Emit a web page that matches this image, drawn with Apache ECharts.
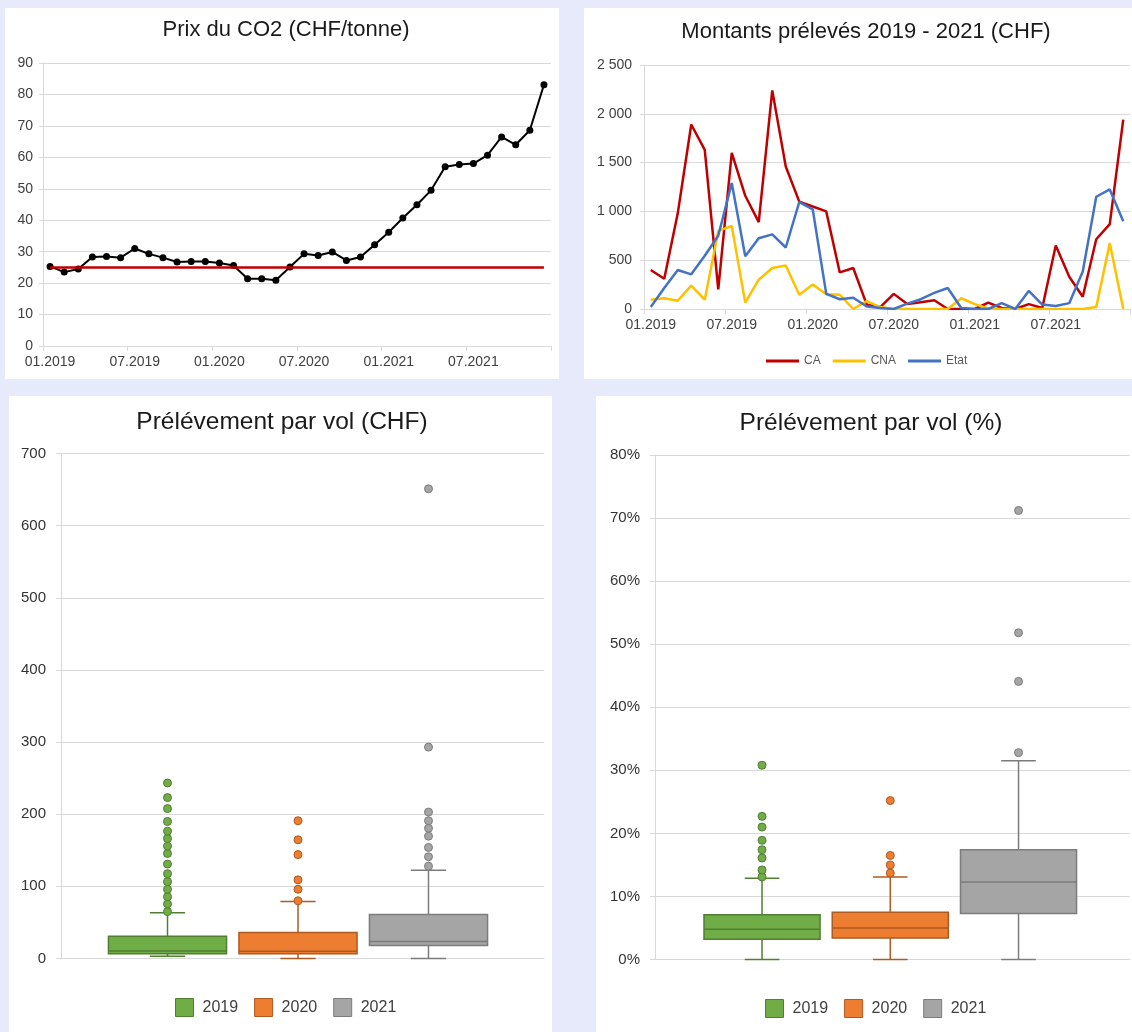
<!DOCTYPE html>
<html>
<head>
<meta charset="utf-8">
<script src="https://cdn.jsdelivr.net/npm/echarts@6/dist/echarts.min.js"></script>
<style>
html, body { margin: 0; padding: 0; background: #e6eafb; }
#c { width: 1132px; height: 1032px; }
</style>
</head>
<body>
<div id="c"></div>
<script>
// ---------- categories ----------
const years = ['2019', '2020', '2021'];
const monthNums = ['01','02','03','04','05','06','07','08','09','10','11','12'];
const months = [];
years.forEach(y => monthNums.forEach(m => months.push(m + '.' + y)));

// ---------- Prix du CO2 (CHF/tonne) ----------
const co2Price = [25.3, 23.5, 24.5, 28.3, 28.5, 28.1, 31.0, 29.3, 28.1, 26.7, 26.9, 26.9,
                  26.4, 25.6, 21.4, 21.4, 20.9, 25.1, 29.3, 28.8, 29.9, 27.2, 28.3, 32.2,
                  36.2, 40.7, 44.9, 49.5, 57.0, 57.7, 58.0, 60.7, 66.5, 64.0, 68.6, 83.1];
const co2Reference = 25;

// ---------- Montants prélevés 2019 - 2021 (CHF) ----------
const amountCA   = [400, 310, 980, 1890, 1630, 200, 1600, 1160, 890, 2240, 1460, 1100,
                    1050, 1000, 375, 420, 45, 20, 155, 50, 70, 90, 0, 0,
                    0, 65, 10, 0, 50, 10, 650, 330, 125, 715, 870, 1940];
const amountCNA  = [95, 110, 85, 240, 95, 800, 850, 65, 300, 420, 445, 145,
                    250, 150, 145, 0, 80, 20, 0, 0, 0, 0, 0, 110,
                    50, 5, 0, 0, 0, 0, 0, 0, 0, 20, 675, 0];
const amountEtat = [20, 215, 400, 355, 545, 750, 1290, 540, 725, 765, 630, 1095,
                    1020, 155, 100, 115, 25, 10, 0, 55, 100, 165, 215, 10,
                    0, 0, 60, 0, 185, 45, 30, 60, 385, 1150, 1225, 900];
const amountNames = ['CA', 'CNA', 'Etat'];

// ---------- Prélévement par vol (CHF): [min, Q1, median, Q3, max] ----------
const chfBox2019 = [3, 6.5, 10.5, 31, 63.5];
const chfBox2020 = [0, 6.5, 10, 36, 79];
const chfBox2021 = [0, 18, 23.5, 61, 122.5];
const chfOut2019 = [65, 75.6, 85.7, 95.9, 106.5, 117.5, 130.9, 145.6, 155.8, 166.4, 176.5, 189.9, 207.8, 223, 243.3];
const chfOut2020 = [80, 96, 109, 144, 164.5, 191];
const chfOut2021 = [128, 141, 154, 169.6, 180.6, 191, 203, 293, 651];

// ---------- Prélévement par vol (%) ----------
const pctBox2019 = [0, 3.2, 4.8, 7.1, 12.9];
const pctBox2020 = [0, 3.4, 5.0, 7.5, 13.1];
const pctBox2021 = [0, 7.3, 12.3, 17.4, 31.5];
const pctOut2019 = [13.1, 14.2, 16.1, 17.4, 18.9, 21.0, 22.7, 30.8];
const pctOut2020 = [13.7, 15.0, 16.5, 25.2];
const pctOut2021 = [32.8, 44.1, 51.8, 71.2];

// ---------- styling ----------
const FONT = 'Liberation Sans, Arial, sans-serif';
const GRID_C = '#d9d9d9';
const LABEL_C = '#404040';
const lineColors = { 'CA': '#c00000', 'CNA': '#ffc000', 'Etat': '#4472c4' };
const yearFill = { '2019': '#70ad47', '2020': '#ed7d31', '2021': '#a5a5a5' };
const yearStroke = { '2019': '#507e32', '2020': '#ae5a21', '2021': '#7c7c7c' };

function thousands(v) {
  return v >= 1000 ? Math.floor(v / 1000) + ' ' + String(v % 1000).padStart(3, '0') : String(v);
}

function boxRenderer(fill, stroke) {
  return function (params, api) {
    const c = api.value(0);
    const pLo = api.coord([c, api.value(1)]);
    const pQ1 = api.coord([c, api.value(2)]);
    const pMed = api.coord([c, api.value(3)]);
    const pQ3 = api.coord([c, api.value(4)]);
    const pHi = api.coord([c, api.value(5)]);
    const band = api.size([1, 0])[0];
    const bw = band * 0.905;
    const cw = band * 0.27;
    const x = pMed[0];
    const ls = { stroke: stroke, lineWidth: 1.5, fill: null };
    return {
      type: 'group',
      children: [
        { type: 'line', shape: { x1: x, y1: pHi[1], x2: x, y2: pQ3[1] }, style: ls },
        { type: 'line', shape: { x1: x, y1: pQ1[1], x2: x, y2: pLo[1] }, style: ls },
        { type: 'line', shape: { x1: x - cw / 2, y1: pHi[1], x2: x + cw / 2, y2: pHi[1] }, style: ls },
        { type: 'line', shape: { x1: x - cw / 2, y1: pLo[1], x2: x + cw / 2, y2: pLo[1] }, style: ls },
        { type: 'rect', shape: { x: x - bw / 2, y: pQ3[1], width: bw, height: pQ1[1] - pQ3[1] },
          style: { fill: fill, stroke: stroke, lineWidth: 1.5 } },
        { type: 'line', shape: { x1: x - bw / 2, y1: pMed[1], x2: x + bw / 2, y2: pMed[1] }, style: ls }
      ]
    };
  };
}

function boxSeries(year, box, axisIdx) {
  return {
    type: 'custom', name: year, xAxisIndex: axisIdx, yAxisIndex: axisIdx,
    itemStyle: { color: yearFill[year] },
    renderItem: boxRenderer(yearFill[year], yearStroke[year]),
    encode: { x: 0, y: [1, 2, 3, 4, 5] },
    data: [[year].concat(box)], z: 2
  };
}
function outSeries(year, vals, axisIdx) {
  return {
    type: 'scatter', name: year, xAxisIndex: axisIdx, yAxisIndex: axisIdx,
    symbol: 'circle', symbolSize: 8,
    itemStyle: { color: yearFill[year], borderColor: yearStroke[year], borderWidth: 1, opacity: 1 },
    data: vals.map(v => [year, v]), z: 3
  };
}
function legendItems() {
  return years.map(y => ({ name: y, icon: 'rect',
    itemStyle: { color: yearFill[y], borderColor: yearStroke[y], borderWidth: 1 } }));
}
function amountSeries(name, data) {
  return { type: 'line', name: name, xAxisIndex: 1, yAxisIndex: 1, data: data, symbol: 'none',
    itemStyle: { color: lineColors[name] }, lineStyle: { color: lineColors[name], width: 2.5 } };
}

const axisLineGray = { show: true, lineStyle: { color: GRID_C, width: 1 } };
const splitGray = { show: true, lineStyle: { color: GRID_C, width: 1 } };

function titleText(text, x, y, size) {
  return { type: 'text', x: x, y: y, z: 5, silent: true,
    style: { text: text, font: size + 'px ' + FONT, fill: '#1a1a1a',
      textAlign: 'center', textVerticalAlign: 'middle', align: 'center', verticalAlign: 'middle' } };
}
function panel(x, y, w, h) {
  return { type: 'rect', z: -10, silent: true, shape: { x: x, y: y, width: w, height: h },
    style: { fill: '#ffffff' } };
}

const option = {
  animation: false,
  backgroundColor: '#e6eafb',
  textStyle: { fontFamily: FONT },
  graphic: { elements: [
    panel(5, 8, 554, 371),
    panel(584, 8, 548, 371),
    panel(9, 396, 543, 636),
    panel(596, 396, 536, 636),
    titleText('Prix du CO2 (CHF/tonne)', 286, 30, 22),
    titleText('Montants prélevés 2019 - 2021 (CHF)', 866, 32, 22),
    titleText('Prélévement par vol (CHF)', 282, 422, 24.5),
    titleText('Prélévement par vol (%)', 871, 423, 24.5)
  ] },
  grid: [
    { left: 43, top: 63, width: 508, height: 283 },
    { left: 644, top: 65, width: 486, height: 244 },
    { left: 61, top: 453.5, width: 483, height: 505 },
    { left: 102.25, top: 453.5, width: 391.5, height: 505 },
    { left: 655, top: 455, width: 475, height: 504.5 },
    { left: 697.9, top: 455, width: 384.75, height: 504.5 }
  ],
  xAxis: [
    { gridIndex: 0, type: 'category', data: months, boundaryGap: true,
      axisLine: axisLineGray,
      axisTick: { show: true, interval: 5, length: 5, lineStyle: { color: GRID_C } },
      axisLabel: { interval: 5, fontSize: 14, color: LABEL_C, margin: 9, fontFamily: FONT } },
    { gridIndex: 1, type: 'category', data: months, boundaryGap: true,
      axisLine: axisLineGray,
      axisTick: { show: true, interval: 5, length: 5, lineStyle: { color: GRID_C } },
      axisLabel: { interval: 5, fontSize: 14, color: LABEL_C, margin: 9, fontFamily: FONT } },
    { gridIndex: 2, type: 'category', data: [''], axisLine: axisLineGray,
      axisTick: { show: false }, axisLabel: { show: false } },
    { gridIndex: 3, type: 'category', data: years, show: false },
    { gridIndex: 4, type: 'category', data: [''], axisLine: axisLineGray,
      axisTick: { show: false }, axisLabel: { show: false } },
    { gridIndex: 5, type: 'category', data: years, show: false }
  ],
  yAxis: [
    { gridIndex: 0, type: 'value', min: 0, max: 90, interval: 10,
      axisLine: axisLineGray, axisTick: { show: true, length: 4, lineStyle: { color: GRID_C } },
      splitLine: splitGray,
      axisLabel: { fontSize: 14, color: LABEL_C, margin: 10, fontFamily: FONT } },
    { gridIndex: 1, type: 'value', min: 0, max: 2500, interval: 500,
      axisLine: axisLineGray, axisTick: { show: true, length: 4, lineStyle: { color: GRID_C } },
      splitLine: splitGray,
      axisLabel: { fontSize: 14, color: LABEL_C, margin: 12, fontFamily: FONT, formatter: thousands } },
    { gridIndex: 2, type: 'value', min: 0, max: 700, interval: 100,
      axisLine: axisLineGray, axisTick: { show: true, length: 5, lineStyle: { color: GRID_C } },
      splitLine: splitGray,
      axisLabel: { fontSize: 15, color: '#333333', margin: 15, fontFamily: FONT } },
    { gridIndex: 3, type: 'value', min: 0, max: 700, show: false, splitLine: { show: false } },
    { gridIndex: 4, type: 'value', min: 0, max: 80, interval: 10,
      axisLine: axisLineGray, axisTick: { show: true, length: 5, lineStyle: { color: GRID_C } },
      splitLine: splitGray,
      axisLabel: { fontSize: 15, color: '#333333', margin: 15, fontFamily: FONT, formatter: '{value}%' } },
    { gridIndex: 5, type: 'value', min: 0, max: 80, show: false, splitLine: { show: false } }
  ],
  legend: [
    { data: amountNames.map(n => ({ name: n, icon: 'rect', itemStyle: { color: lineColors[n] } })),
      left: 761, top: 350, itemWidth: 33, itemHeight: 3, itemGap: 12,
      textStyle: { fontSize: 12, color: '#595959', fontFamily: FONT }, selectedMode: false },
    { data: legendItems(), left: 170, top: 993, itemWidth: 18, itemHeight: 18, itemGap: 16,
      textStyle: { fontSize: 16, color: LABEL_C, fontFamily: FONT, padding: [0, 0, 0, 4] }, selectedMode: false },
    { data: legendItems(), left: 760, top: 994, itemWidth: 18, itemHeight: 18, itemGap: 16,
      textStyle: { fontSize: 16, color: LABEL_C, fontFamily: FONT, padding: [0, 0, 0, 4] }, selectedMode: false }
  ],
  series: [
    { type: 'line', name: 'Prix CO2', xAxisIndex: 0, yAxisIndex: 0, data: co2Price,
      symbol: 'circle', symbolSize: 7, showAllSymbol: true,
      itemStyle: { color: '#000000' }, lineStyle: { color: '#000000', width: 2 },
      markLine: { silent: true, symbol: ['none', 'none'], label: { show: false },
        lineStyle: { color: '#c00000', width: 2.5, type: 'solid' },
        data: [[{ xAxis: months[0], yAxis: co2Reference }, { xAxis: months[months.length - 1], yAxis: co2Reference }]] } },
    amountSeries('CA', amountCA),
    amountSeries('CNA', amountCNA),
    amountSeries('Etat', amountEtat),
    boxSeries('2019', chfBox2019, 3),
    boxSeries('2020', chfBox2020, 3),
    boxSeries('2021', chfBox2021, 3),
    outSeries('2019', chfOut2019, 3),
    outSeries('2020', chfOut2020, 3),
    outSeries('2021', chfOut2021, 3),
    boxSeries('2019', pctBox2019, 5),
    boxSeries('2020', pctBox2020, 5),
    boxSeries('2021', pctBox2021, 5),
    outSeries('2019', pctOut2019, 5),
    outSeries('2020', pctOut2020, 5),
    outSeries('2021', pctOut2021, 5)
  ]
};

const chart = echarts.init(document.getElementById('c'), null, { renderer: 'canvas' });
chart.setOption(option);
</script>
</body>
</html>
